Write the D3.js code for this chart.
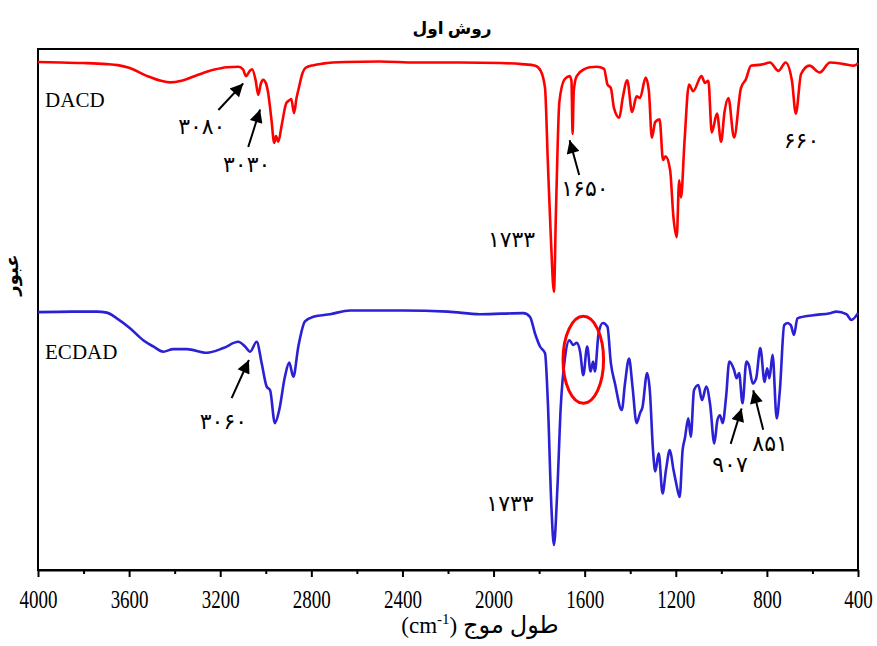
<!DOCTYPE html>
<html>
<head>
<meta charset="utf-8">
<script src="https://cdn.jsdelivr.net/npm/d3@7"></script>
<style>
  body { margin: 0; background: #fff; }
  svg text { font-family: "Liberation Serif", "DejaVu Sans", serif; }
</style>
</head>
<body>
<div id="container"></div>
<script>
// chart size
const width = 877;
const height = 646;
const marginTop = 49;
const marginRight = 19;
const marginBottom = 76;
const marginLeft = 38;

// DACD spectrum: [wavenumber cm-1, transmittance (offset, %)]
const dacd = [
  [4000, 97.5], [3900, 97.4], [3800, 97.3], [3700, 97.1], [3650, 96.9], [3600, 96.4],
  [3520, 94.8], [3460, 93.9], [3420, 93.6], [3370, 93.9], [3300, 95.0], [3230, 96.0],
  [3170, 96.5], [3120, 96.6], [3100, 96.1], [3087, 94.8], [3070, 95.8], [3060, 96.1],
  [3045, 94.1], [3033, 91.2], [3022, 93.3], [3012, 94.1], [3000, 93.5], [2990, 91.7],
  [2975, 86.4], [2963, 82.0], [2955, 83.3], [2945, 82.2], [2930, 85.4], [2910, 89.6],
  [2895, 90.2], [2888, 90.4], [2876, 87.7], [2865, 90.6], [2855, 92.5], [2840, 95.2],
  [2825, 96.4], [2790, 96.9], [2750, 97.2], [2650, 97.5], [2500, 97.6], [2342, 97.4],
  [2150, 97.4], [1966, 97.3], [1876, 97.1], [1816, 96.8], [1793, 95.8], [1774, 92.5],
  [1762, 78.7], [1748, 63.3], [1735, 53.4], [1726, 68.9], [1711, 89.9], [1688, 94.2],
  [1666, 94.8], [1658, 93.9], [1653, 83.7], [1648, 91.9], [1635, 94.8], [1599, 96.2],
  [1577, 96.5], [1546, 96.6], [1515, 96.2], [1500, 93.2], [1485, 92.5], [1471, 88.6],
  [1448, 86.8], [1433, 90.6], [1413, 94.0], [1392, 87.9], [1372, 90.9], [1357, 90.6],
  [1332, 94.5], [1318, 91.9], [1305, 83.0], [1290, 86.0], [1271, 86.5], [1256, 78.7],
  [1245, 79.4], [1225, 76.8], [1210, 67.6], [1196, 63.9], [1185, 74.8], [1177, 71.5],
  [1162, 82.0], [1142, 93.2], [1124, 91.9], [1087, 94.8], [1072, 93.5], [1057, 93.9],
  [1042, 84.0], [1019, 87.6], [1001, 82.2], [986, 87.9], [969, 90.6], [944, 83.0],
  [914, 92.5], [892, 94.2], [870, 96.8], [824, 97.0], [786, 97.4], [749, 95.8],
  [718, 97.4], [690, 93.9], [673, 87.6], [650, 95.2], [613, 96.8], [568, 95.5],
  [523, 97.4], [463, 97.1], [417, 96.8], [400, 97.3]
];

// ECDAD spectrum
const ecdad = [
  [4000, 49.5], [3850, 49.6], [3742, 49.6], [3698, 49.4], [3654, 48.3], [3596, 46.4],
  [3538, 44.1], [3494, 42.9], [3450, 41.9], [3406, 42.4], [3347, 42.4], [3259, 41.7],
  [3186, 42.6], [3121, 43.8], [3091, 42.9], [3069, 41.9], [3040, 43.8], [3018, 39.7],
  [2996, 35.2], [2981, 34.5], [2960, 28.2], [2941, 30.7], [2916, 37.1], [2897, 39.8],
  [2879, 37.1], [2857, 42.9], [2828, 47.7], [2791, 48.6], [2718, 49.1], [2630, 49.8],
  [2400, 49.8], [2200, 49.6], [2060, 49.1], [1869, 49.3], [1840, 48.6], [1818, 45.4],
  [1796, 42.9], [1774, 41.6], [1762, 32.6], [1746, 12.1], [1735, 4.8], [1720, 15.4],
  [1705, 31.3], [1686, 40.9], [1667, 44.1], [1650, 43.2], [1635, 43.6], [1620, 41.9],
  [1606, 37.4], [1589, 42.9], [1574, 38.1], [1563, 40.0], [1555, 38.1], [1539, 45.4],
  [1520, 47.4], [1500, 46.7], [1485, 39.7], [1467, 35.8], [1437, 30.7], [1423, 35.8],
  [1405, 40.6], [1390, 35.2], [1372, 28.2], [1357, 30.1], [1346, 31.3], [1326, 37.8],
  [1314, 34.5], [1300, 23.0], [1290, 18.9], [1275, 22.4], [1258, 14.7], [1243, 19.2],
  [1226, 23.0], [1210, 19.2], [1198, 16.6], [1183, 14.0], [1170, 23.0], [1160, 25.3],
  [1145, 29.1], [1134, 25.6], [1120, 34.5], [1101, 35.5], [1085, 32.6], [1066, 35.2],
  [1049, 31.7], [1031, 24.3], [1017, 28.8], [1006, 29.7], [994, 28.2], [979, 33.3],
  [965, 40.0], [944, 38.4], [933, 36.8], [922, 37.8], [907, 32.0], [890, 40.0],
  [879, 39.3], [862, 35.8], [847, 36.8], [829, 42.6], [810, 36.1], [799, 38.7],
  [789, 36.8], [775, 41.3], [757, 29.1], [743, 34.5], [724, 47.0], [710, 47.4],
  [695, 47.0], [681, 45.1], [666, 48.3], [596, 48.9], [523, 49.3], [495, 49.6],
  [451, 49.1], [429, 48.0], [400, 49.3]
];

// axis ticks
const majorTicks = d3.range(4000, 399, -400);
const minorTicks = d3.range(3800, 400, -400);

// sample names
const sampleNames = [
  { name: "DACD", w: 3969, t: 88.9 },
  { name: "ECDAD", w: 3969, t: 40.5 }
];

// peak labels (Persian digits)
const peakLabels = [
  { text: "۳۰۸۰", w: 3281, t: 84.6 },
  { text: "۳۰۳۰", w: 3084, t: 77.4 },
  { text: "۱۶۵۰", w: 1599, t: 72.7 },
  { text: "۱۷۳۳", w: 1921, t: 63.0 },
  { text: "۶۶۰", w: 648, t: 82.0 },
  { text: "۳۰۶۰", w: 3186, t: 28.0 },
  { text: "۱۷۳۳", w: 1928, t: 12.3 },
  { text: "۹۰۷", w: 962, t: 19.8 },
  { text: "۸۵۱", w: 786, t: 23.8 }
];

// arrows: from [w, t] to [w, t]
const arrows = [
  { from: [3208, 88.3], to: [3099, 93.4] },
  { from: [3077, 81.2], to: [3025, 88.4] },
  { from: [1624, 75.8], to: [1666, 82.5] },
  { from: [3150, 33.0], to: [3074, 40.3] },
  { from: [959, 24.2], to: [911, 31.0] },
  { from: [816, 26.9], to: [860, 34.5] }
];

// highlighted region (red ellipse)
const highlight = { w0: 1695, w1: 1517, t0: 48.7, t1: 32.0 };

const x = d3.scaleLinear()
  .domain([4000, 400])
  .range([marginLeft, width - marginRight]);

const y = d3.scaleLinear()
  .domain([0, 100])
  .range([height - marginBottom, marginTop]);

const svg = d3.create("svg")
  .attr("width", width)
  .attr("height", height);

// arrow head
svg.append("defs").append("marker")
  .attr("id", "head")
  .attr("viewBox", "0 0 10 10")
  .attr("refX", 10)
  .attr("refY", 5)
  .attr("markerUnits", "userSpaceOnUse")
  .attr("markerWidth", 15)
  .attr("markerHeight", 13)
  .attr("orient", "auto")
  .append("path")
  .attr("d", "M0,0 L10,5 L0,10 Z")
  .attr("fill", "#000");

// frame
svg.append("rect")
  .attr("x", marginLeft)
  .attr("y", marginTop)
  .attr("width", width - marginLeft - marginRight)
  .attr("height", height - marginTop - marginBottom)
  .attr("fill", "none")
  .attr("stroke", "#000")
  .attr("stroke-width", 2);

// x axis, major (labels are a bit tall in the original -> stretched vertically)
const xAxis = svg.append("g")
  .attr("transform", `translate(0,${height - marginBottom})`)
  .call(d3.axisBottom(x).tickValues(majorTicks).tickFormat(d3.format("d")).tickSize(7).tickSizeOuter(0))
  .attr("font-family", null)
  .attr("font-size", null);
xAxis.select(".domain").attr("stroke-width", 2);
xAxis.selectAll(".tick line").attr("stroke-width", 2);
xAxis.selectAll(".tick text")
  .attr("y", 27.5)
  .attr("dy", null)
  .attr("transform", "scale(1,1.38)")
  .style("font-family", "'Liberation Serif', serif")
  .style("font-size", "19px")
  .attr("fill", "#000");

// x axis, minor
svg.append("g")
  .attr("transform", `translate(0,${height - marginBottom})`)
  .call(d3.axisBottom(x).tickValues(minorTicks).tickSize(4).tickFormat(""))
  .call(g => g.select(".domain").remove())
  .selectAll(".tick line").attr("stroke-width", 2);

// spectra
const line = d3.line()
  .x(d => x(d[0]))
  .y(d => y(d[1]))
  .curve(d3.curveMonotoneX);

svg.append("path")
  .datum(dacd)
  .attr("fill", "none")
  .attr("stroke", "#ff0000")
  .attr("stroke-width", 2.6)
  .attr("stroke-linejoin", "round")
  .attr("d", line);

svg.append("path")
  .datum(ecdad)
  .attr("fill", "none")
  .attr("stroke", "#2b20d4")
  .attr("stroke-width", 2.6)
  .attr("stroke-linejoin", "round")
  .attr("d", line);

// red ellipse
svg.append("ellipse")
  .attr("cx", (x(highlight.w0) + x(highlight.w1)) / 2)
  .attr("cy", (y(highlight.t0) + y(highlight.t1)) / 2)
  .attr("rx", Math.abs(x(highlight.w1) - x(highlight.w0)) / 2)
  .attr("ry", Math.abs(y(highlight.t1) - y(highlight.t0)) / 2)
  .attr("fill", "none")
  .attr("stroke", "#ff0000")
  .attr("stroke-width", 3);

// sample names
svg.selectAll(".sample")
  .data(sampleNames)
  .join("text")
  .attr("class", "sample")
  .attr("x", d => x(d.w))
  .attr("y", d => y(d.t))
  .style("font-size", "21px")
  .text(d => d.name);

// arrows
svg.selectAll(".arrow")
  .data(arrows)
  .join("line")
  .attr("class", "arrow")
  .attr("x1", d => x(d.from[0]))
  .attr("y1", d => y(d.from[1]))
  .attr("x2", d => x(d.to[0]))
  .attr("y2", d => y(d.to[1]))
  .attr("stroke", "#000")
  .attr("stroke-width", 2)
  .attr("marker-end", "url(#head)");

// peak labels
svg.selectAll(".peak")
  .data(peakLabels)
  .join("text")
  .attr("class", "peak")
  .attr("x", d => x(d.w))
  .attr("y", d => y(d.t))
  .attr("text-anchor", "middle")
  .attr("dominant-baseline", "middle")
  .style("font-size", "22px")
  .text(d => d.text);

// title
svg.append("text")
  .attr("x", 452)
  .attr("y", 34)
  .attr("text-anchor", "middle")
  .style("font-size", "17px")
  .style("font-weight", "bold")
  .text("روش اول");

// x axis title
const xt = svg.append("text")
  .attr("x", 480)
  .attr("y", 633)
  .attr("text-anchor", "middle")
  .attr("direction", "ltr")
  .style("font-size", "23px");
xt.append("tspan").text("(cm");
xt.append("tspan").attr("dy", -9).style("font-size", "15px").text("-1");
xt.append("tspan").attr("dy", 9).text(") ");
xt.append("tspan").style("font-size", "24px").text("طول موج");

// y axis title
svg.append("text")
  .attr("transform", `translate(18,${275}) rotate(-90)`)
  .attr("text-anchor", "middle")
  .style("font-size", "18px")
  .style("font-weight", "bold")
  .text("عبور");

container.append(svg.node());
</script>
</body>
</html>
